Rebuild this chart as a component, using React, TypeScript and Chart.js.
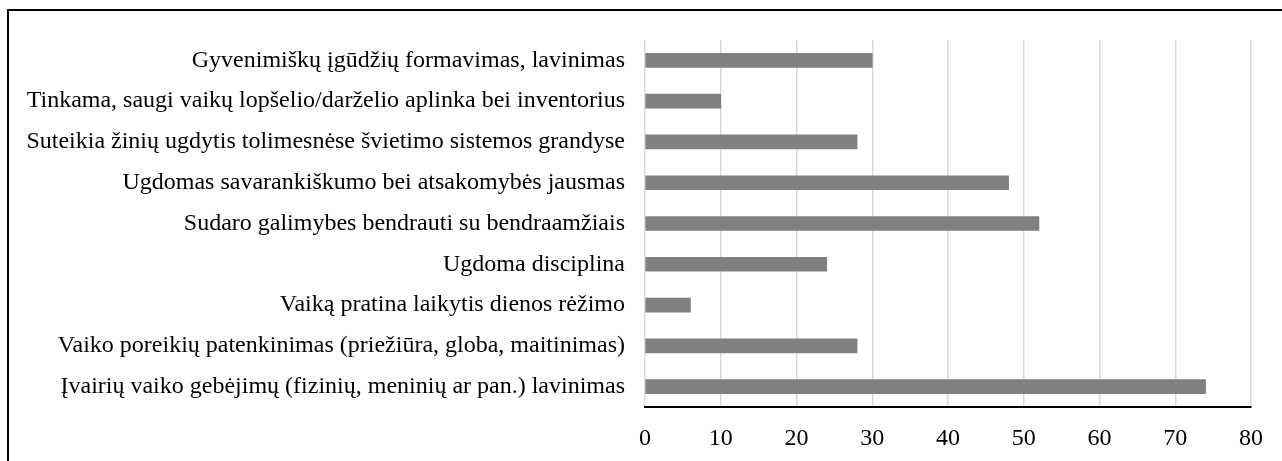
import React, { useEffect, useRef } from "react";
import { Chart, registerables } from "chart.js";

Chart.register(...registerables);

const categories = [
  "Gyvenimiškų įgūdžių formavimas, lavinimas",
  "Tinkama, saugi vaikų lopšelio/darželio aplinka bei inventorius",
  "Suteikia žinių ugdytis tolimesnėse švietimo sistemos grandyse",
  "Ugdomas savarankiškumo bei atsakomybės jausmas",
  "Sudaro galimybes bendrauti su bendraamžiais",
  "Ugdoma disciplina",
  "Vaiką pratina laikytis dienos rėžimo",
  "Vaiko poreikių patenkinimas (priežiūra, globa, maitinimas)",
  "Įvairių vaiko gebėjimų (fizinių, meninių ar pan.) lavinimas",
];

const values = [30, 10, 28, 48, 52, 24, 6, 28, 74];

const xMin = 0;
const xMax = 80;
const xStep = 10;

const FONT = "'Liberation Serif', 'Times New Roman', serif";

export default function App() {
  const canvasRef = useRef<HTMLCanvasElement | null>(null);

  useEffect(() => {
    document.body.style.margin = "0";
    const canvas = canvasRef.current;
    if (!canvas) return;
    const chart = new Chart(canvas, {
      type: "bar",
      data: {
        labels: categories,
        datasets: [
          {
            data: values,
            backgroundColor: "#808080",
            borderWidth: 0,
            barThickness: 14,
          },
        ],
      },
      options: {
        indexAxis: "y",
        animation: false,
        responsive: false,
        maintainAspectRatio: false,
        layout: { padding: { top: 40, right: 31, left: 0, bottom: 0 } },
        plugins: {
          legend: { display: false },
          tooltip: { enabled: false },
        },
        scales: {
          x: {
            min: xMin,
            max: xMax,
            ticks: {
              stepSize: xStep,
              color: "#000",
              padding: 17,
              font: { family: FONT, size: 24 },
            },
            grid: {
              color: "#d9d9d9",
              lineWidth: 1.5,
              drawTicks: false,
            },
            border: { display: true, color: "#000", width: 2 },
            afterFit: (scale: any) => {
              scale.height = 54;
            },
          },
          y: {
            ticks: {
              color: "#000",
              padding: 20,
              autoSkip: false,
              font: { family: FONT, size: 24 },
            },
            grid: { display: false, drawTicks: false },
            border: { display: false },
            afterFit: (scale: any) => {
              scale.width = 645;
            },
          },
        },
      },
    });
    return () => chart.destroy();
  }, []);

  return (
    <div style={{ position: "relative", width: 1282, height: 461, background: "#fff" }}>
      <canvas ref={canvasRef} width={1282} height={461} style={{ position: "absolute", left: 0, top: 0 }} />
      <div
        style={{
          position: "absolute",
          left: 7,
          top: 9,
          right: 0,
          bottom: 0,
          borderTop: "2px solid #000",
          borderLeft: "2px solid #000",
          pointerEvents: "none",
        }}
      />
    </div>
  );
}
